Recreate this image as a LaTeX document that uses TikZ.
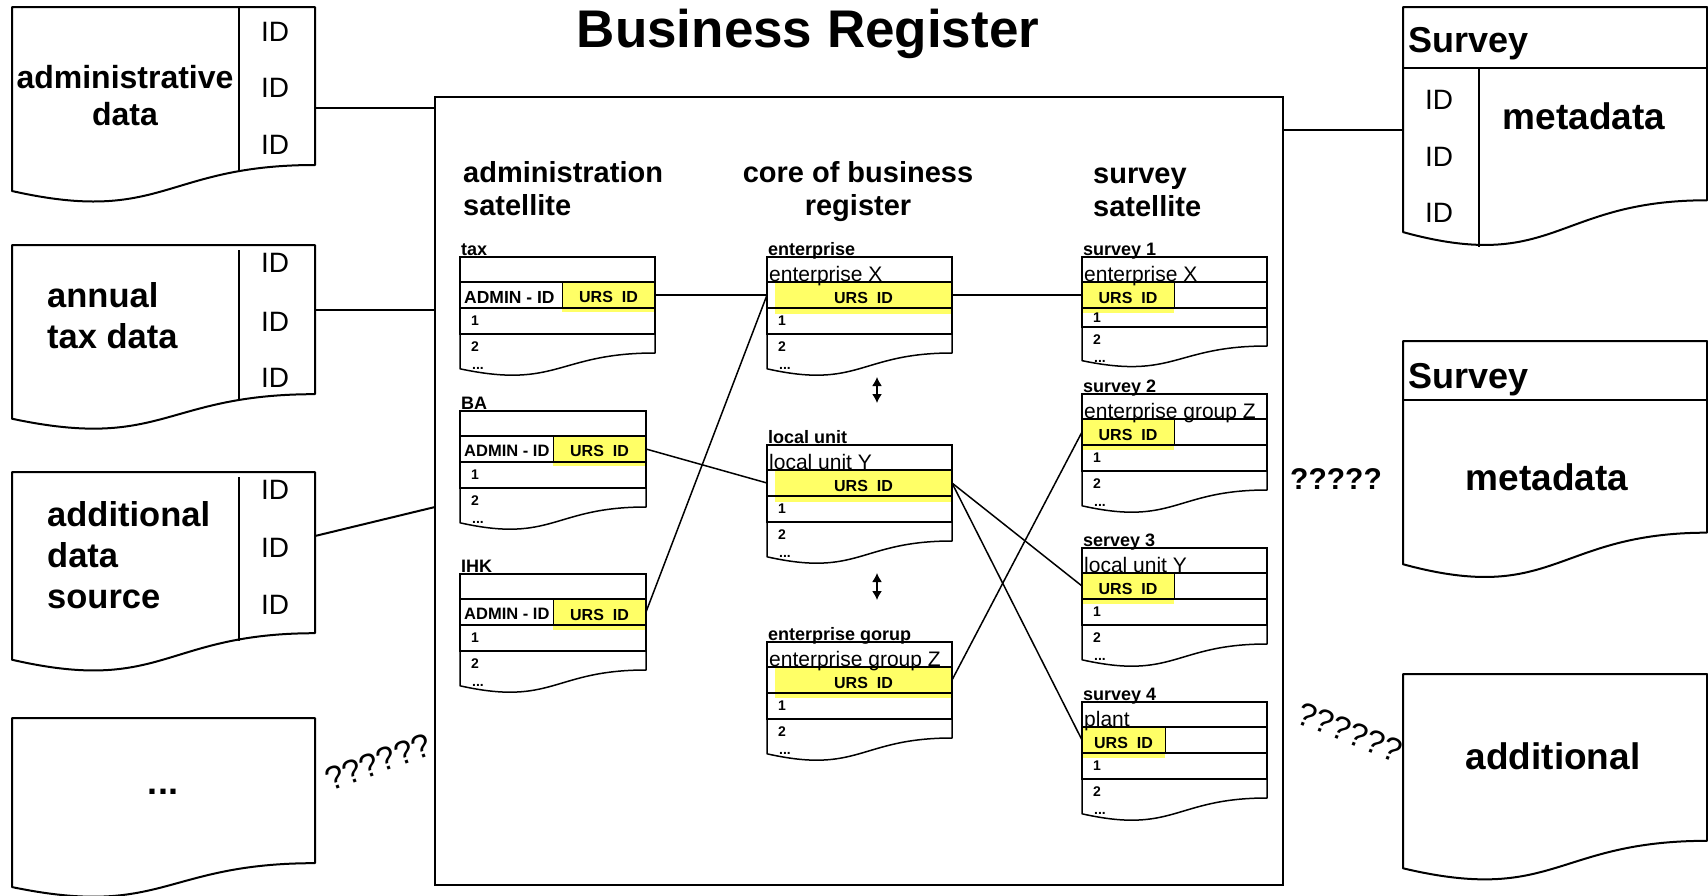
\documentclass[tikz,border=0pt]{standalone}
\usepackage{fontspec}
\setmainfont{Liberation Sans}
\usetikzlibrary{arrows.meta,positioning}
\definecolor{ursyellow}{RGB}{255,255,102}
\newcommand{\fs}[2]{\fontsize{#1}{#2}\selectfont}
\tikzset{
    docsty/.style={draw, line width=2pt, line join=round},
    tblsty/.style={draw, line width=1.5pt, line join=round},
    boxsty/.style={draw, line width=2pt, rectangle, inner sep=0pt, outer sep=0pt, anchor=north west},
    linksty/.style={line width=2pt},
    lnksty/.style={line width=1.5pt},
    thinsty/.style={line width=1pt},
    rowsty/.style={draw, line width=1.5pt, rectangle, inner sep=0pt, outer sep=0pt, anchor=north west},
    ursty/.style={fill=ursyellow, rectangle, inner sep=0pt, outer sep=0pt, anchor=north west, font=\fs{16}{18}\bfseries},
    titlesty/.style={font=\fs{53}{60}\bfseries, anchor=base},
    srcsty/.style={font=\fs{34.5}{41}\bfseries, align=left, anchor=west, inner sep=0pt},
    idsty/.style={font=\fs{28}{32}, inner sep=0pt},
    colsty/.style={font=\fs{29}{33}\bfseries, inner sep=0pt},
    lblsty/.style={font=\fs{18}{20}\bfseries, anchor=base west, inner sep=0pt},
    unitsty/.style={font=\fs{21}{24}, anchor=base west, inner sep=0pt},
    admsty/.style={font=\fs{17.5}{20}\bfseries, anchor=west, inner sep=0pt},
    numsty/.style={font=\fs{14}{16}\bfseries, inner sep=0pt},
    qsty/.style={font=\fs{33}{36}, inner sep=0pt},
    metasty/.style={font=\fs{37}{42}\bfseries, anchor=base, inner sep=0pt},
}
% document shape: left, top, width, height
\newcommand{\docpath}[5][docsty]{%
  \draw[#1] (#2,#3) -- ({#2+#4},#3) -- ({#2+#4},{#3+0.802*#5})
    .. controls ({#2+0.5*#4},{#3+0.802*#5}) and ({#2+0.5*#4},{#3+1.1075*#5}) .. (#2,{#3+0.934*#5}) -- cycle;}
% satellite table: name, left, top, width, label, first row, height of row 1
\newcommand{\sattbl}[7]{%
  \docpath[tblsty]{#2}{#3}{#4}{(70+#7)/0.802}
  \node[rowsty, minimum width=#4, minimum height=25] (#1-0) at (#2,#3) {};
  \node[rowsty, minimum width=#4, minimum height=26, below=0pt of #1-0] (#1-1) {};
  \node[rowsty, minimum width=#4, minimum height=#7, below=0pt of #1-1] (#1-2) {};
  \node[lblsty] (#1-lbl) at ({#2+1},{#3-2}) {#5};
  \node[unitsty] (#1-unit) at ([xshift=2pt,yshift=1pt]#1-0.south west) {#6};
  \node[numsty] (#1-n1) at ([xshift=15pt]#1-2.west) {1};
  \node[numsty] (#1-n2) at ([xshift=15pt,yshift=-13pt]#1-2.south west) {2};
  \node[numsty, anchor=base] (#1-n3) at ([xshift=18pt,yshift=-35pt]#1-2.south west) {...};
}

\begin{document}
\begin{tikzpicture}[x=1pt,y=-1pt,>={Latex[length=9pt,width=10pt]}]
\useasboundingbox (0,0) rectangle (1708,895);

\node[titlesty] (title) at (808,47) {Business Register};

% sources on the left
\docpath{12}{7}{303}{197}
\docpath{12}{245}{303}{186}
\docpath{12}{472}{303}{201}
\docpath{12}{718}{303}{181}
\draw[docsty] (239,7) -- (239,172);
\draw[docsty] (239,250) -- (239,400);
\draw[docsty] (239,477) -- (239,641);
\node[srcsty, align=center, anchor=center, font=\fs{32}{37}\bfseries] (admtxt) at (125,96) {administrative\\data};
\node[srcsty] (taxtxt) at (47,316) {annual\\tax data};
\node[srcsty] (addtxt) at (47,555) {additional\\data\\source};
\node[font=\fs{36}{40}\bfseries, inner sep=0pt] (moretxt) at (163,792) {...};
\foreach \y [count=\i] in {32,88,145,263,322,378,490,548,605}
  \node[idsty] (id\i) at (275,\y) {ID};

% register
\node[boxsty, minimum width=848, minimum height=788] (reg) at (435,97) {};
\coordinate (admout) at (315,108);
\coordinate (taxout) at (315,310);
\coordinate (addout) at (315,536);
\coordinate (addin) at (435,507);
\coordinate (svin) at (1403,130);
\draw[linksty] (admout) -- (admout -| reg.west);
\draw[linksty] (taxout) -- (taxout -| reg.west);
\draw[linksty] (addout) -- (addin);
\draw[linksty] (svin -| reg.east) -- (svin);

\node[colsty, align=left, anchor=west] (admcol) at (463,189) {administration\\satellite};
\node[colsty, align=center] (corecol) at (858,192) {core of business\\register};
\node[colsty, align=left, anchor=west] (svcol) at (1093,192) {survey\\satellite};

% URS ID cells
\node[ursty, minimum width=93, minimum height=30] (taxurs) at (562,282) {URS~~ID};
\node[ursty, minimum width=93, minimum height=30] (baurs) at (553,436) {URS~~ID};
\node[ursty, minimum width=93, minimum height=31] (ihkurs) at (553,599) {URS~~ID};
\node[ursty, minimum width=177, minimum height=32] (enturs) at (775,282) {URS~~ID};
\node[ursty, minimum width=177, minimum height=32] (luurs) at (775,470) {URS~~ID};
\node[ursty, minimum width=177, minimum height=31] (egurs) at (775,667) {URS~~ID};
\node[ursty, minimum width=92, minimum height=31] (sv1urs) at (1082,282) {URS~~ID\hspace{8pt}};
\node[ursty, minimum width=92, minimum height=31] (sv2urs) at (1082,419) {URS~~ID\hspace{8pt}};
\node[ursty, minimum width=92, minimum height=31] (sv3urs) at (1082,573) {URS~~ID\hspace{8pt}};
\node[ursty, minimum width=83, minimum height=31] (sv4urs) at (1082,727) {URS~~ID\hspace{4pt}};

% satellites and core
\sattbl{tax}{460}{257}{195}{tax}{}{26}
\sattbl{ba}{460}{411}{186}{BA}{}{26}
\sattbl{ihk}{460}{574}{186}{IHK}{}{26}
\sattbl{ent}{767}{257}{185}{enterprise}{enterprise X}{26}
\sattbl{lu}{767}{445}{185}{local unit}{local unit Y}{26}
\sattbl{eg}{767}{642}{185}{enterprise gorup}{enterprise group Z}{26}
\sattbl{sv1}{1082}{257}{185}{survey 1}{enterprise X}{19}
\sattbl{sv2}{1082}{394}{185}{survey 2}{enterprise group Z}{26}
\sattbl{sv3}{1082}{548}{185}{servey 3}{local unit Y}{26}
\sattbl{sv4}{1082}{702}{185}{survey 4}{plant}{26}

\node[admsty] (tax-adm) at ([xshift=4pt,yshift=-2pt]tax-1.west) {ADMIN - ID};
\node[admsty, font=\fs{16.5}{20}\bfseries] (ba-adm) at ([xshift=4pt,yshift=-2pt]ba-1.west) {ADMIN - ID};
\node[admsty, font=\fs{16.5}{20}\bfseries] (ihk-adm) at ([xshift=4pt,yshift=-2pt]ihk-1.west) {ADMIN - ID};
\foreach \t in {tax,ba,ihk}
  \draw[thinsty] (\t urs.north west) -- (\t urs.west |- \t-1.south);
\foreach \t in {sv1,sv2,sv3,sv4}
  \draw[thinsty] (\t urs.north east) -- (\t urs.east |- \t-1.south);

% links between units
\draw[lnksty] (tax-1.east) -- (ent-1.west);
\draw[lnksty] (ent-1.east) -- (sv1-1.west);
\draw[lnksty] (ba-1.east) -- (lu-1.west);
\draw[lnksty] (ihk-1.east) -- (ent-1.west);
\draw[lnksty] (lu-1.east) -- (sv3-1.west);
\draw[lnksty] (lu-1.east) -- (sv4-1.west);
\draw[lnksty] (eg-1.east) -- (sv2-1.west);
\coordinate (entlu1) at (877,377);
\coordinate (entlu2) at (877,403);
\coordinate (lueg1) at (877,573);
\coordinate (lueg2) at (877,600);
\draw[lnksty, <->] (entlu1) -- (entlu2);
\draw[lnksty, <->] (lueg1) -- (lueg2);

% surveys on the right
\docpath{1403}{7}{304}{241}
\draw[docsty] (1403,68) -- (1707,68);
\draw[docsty] (1479,68) -- (1479,247);
\docpath{1403}{341}{304}{239}
\draw[docsty] (1403,400) -- (1707,400);
\docpath{1403}{674}{304}{208}
\node[lblsty, font=\fs{36}{40}\bfseries] (sv1hd) at (1408,52) {Survey};
\node[lblsty, font=\fs{36}{40}\bfseries] (sv2hd) at (1408,388) {Survey};
\foreach \y [count=\i] in {100,157,213}
  \node[idsty] (sid\i) at (1439,\y) {ID};
\node[metasty] (sv1meta) at (1584,129) {metadata};
\node[metasty] (sv2meta) at (1547,490) {metadata};
\node[metasty] (addmeta) at (1553,769) {additional};

\node[qsty, font=\fs{30}{34}\bfseries] (q1) at (1336,479) {?????};
\node[qsty, rotate=20] (q2) at (378,762) {??????};
\node[qsty, rotate=-22] (q3) at (1350,732) {??????};
\end{tikzpicture}
\end{document}
